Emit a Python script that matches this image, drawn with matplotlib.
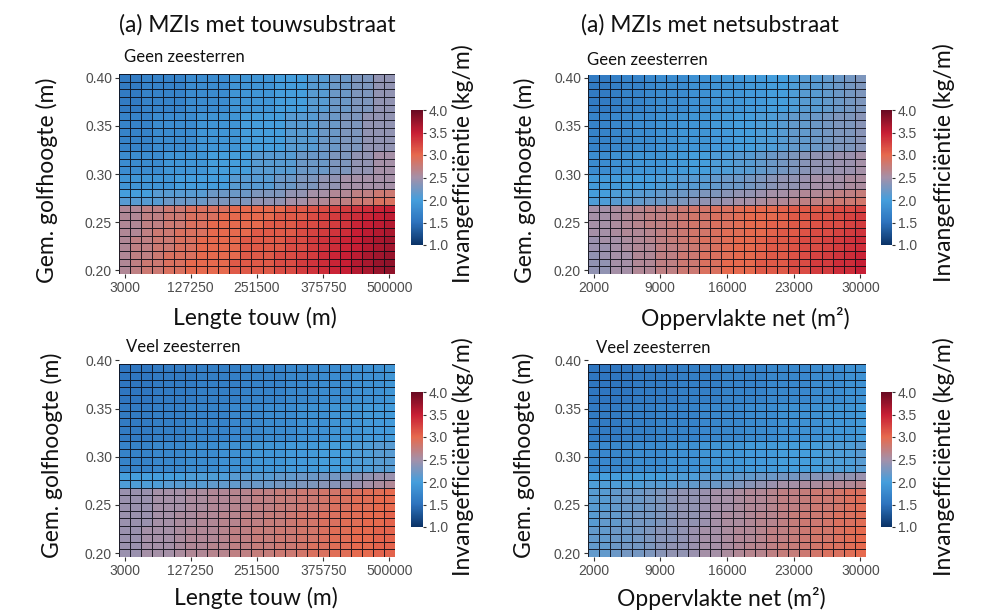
import numpy as np
import matplotlib.pyplot as plt
from matplotlib.colors import LinearSegmentedColormap, Normalize
from matplotlib.cm import ScalarMappable

W, H = 982, 616

# grid coordinates (25 columns each)
touw_lengte = np.linspace(3000, 500000, 25)
net_opp = np.linspace(2000, 30000, 25)
touw_ticks = [3000, 127250, 251500, 375750, 500000]
net_ticks = [2000, 9000, 16000, 23000, 30000]
golf_boven = np.round(np.arange(26) * 0.008 + 0.2, 3)   # 0.200 .. 0.400
golf_onder = np.round(np.arange(25) * 0.008 + 0.2, 3)   # 0.200 .. 0.392
y_ticks = [0.20, 0.25, 0.30, 0.35, 0.40]
cbar_ticks = [1.0, 1.5, 2.0, 2.5, 3.0, 3.5, 4.0]

# invangefficientie (kg/m), rows from 0.20 upwards
touw_geen = [
    [2.6,2.7,2.8,2.8,2.9,2.9,3.0,3.0,3.0,3.0,3.1,3.1,3.1,3.1,3.2,3.2,3.3,3.35,3.4,3.45,3.5,3.6,3.65,3.75,3.8],
    [2.6,2.7,2.8,2.8,2.9,2.9,3.0,3.0,3.0,3.0,3.1,3.1,3.1,3.1,3.2,3.2,3.3,3.35,3.4,3.45,3.5,3.6,3.65,3.75,3.8],
    [2.6,2.7,2.7,2.8,2.9,2.9,2.9,3.0,3.0,3.0,3.0,3.1,3.1,3.1,3.2,3.2,3.25,3.3,3.4,3.45,3.5,3.55,3.65,3.7,3.75],
    [2.6,2.7,2.7,2.8,2.8,2.9,2.9,3.0,3.0,3.0,3.0,3.1,3.1,3.1,3.1,3.2,3.2,3.3,3.35,3.4,3.45,3.5,3.6,3.65,3.7],
    [2.6,2.7,2.7,2.8,2.8,2.9,2.9,3.0,3.0,3.0,3.0,3.1,3.1,3.1,3.1,3.2,3.2,3.3,3.35,3.4,3.45,3.5,3.6,3.65,3.7],
    [2.6,2.6,2.7,2.8,2.8,2.9,2.9,2.9,3.0,3.0,3.0,3.0,3.1,3.1,3.1,3.1,3.2,3.25,3.3,3.35,3.4,3.5,3.55,3.6,3.65],
    [2.6,2.6,2.7,2.7,2.8,2.8,2.9,2.9,3.0,3.0,3.0,3.0,3.0,3.1,3.1,3.1,3.2,3.2,3.25,3.3,3.35,3.45,3.5,3.55,3.6],
    [2.6,2.6,2.7,2.7,2.8,2.8,2.9,2.9,2.9,3.0,3.0,3.0,3.0,3.0,3.1,3.1,3.1,3.2,3.25,3.3,3.35,3.4,3.45,3.5,3.55],
    [2.6,2.6,2.7,2.7,2.8,2.8,2.9,2.9,2.9,2.9,3.0,3.0,3.0,3.0,3.0,3.1,3.1,3.15,3.2,3.25,3.3,3.35,3.4,3.45,3.5],
    [2.1,2.1,2.1,2.1,2.2,2.2,2.2,2.2,2.3,2.3,2.3,2.3,2.4,2.4,2.4,2.5,2.5,2.6,2.6,2.7,2.7,2.8,2.8,2.9,2.9],
    [2.0,2.0,2.0,2.1,2.1,2.1,2.1,2.1,2.2,2.2,2.2,2.2,2.3,2.3,2.3,2.4,2.4,2.5,2.5,2.6,2.6,2.7,2.7,2.8,2.8],
    [1.9,1.9,1.9,1.9,1.9,2.0,2.0,2.0,2.0,2.0,2.1,2.1,2.1,2.1,2.2,2.2,2.3,2.3,2.4,2.4,2.5,2.5,2.5,2.5,2.5],
    [1.9,1.9,1.9,1.9,1.9,2.0,2.0,2.0,2.0,2.0,2.1,2.1,2.1,2.1,2.2,2.2,2.3,2.3,2.4,2.4,2.5,2.5,2.5,2.5,2.5],
    [1.8,1.8,1.8,1.8,1.9,1.9,1.9,1.9,2.0,2.0,2.0,2.0,2.1,2.1,2.1,2.1,2.2,2.2,2.2,2.3,2.3,2.4,2.4,2.5,2.5],
    [1.8,1.8,1.8,1.8,1.9,1.9,1.9,1.9,2.0,2.0,2.0,2.0,2.1,2.1,2.1,2.1,2.2,2.2,2.2,2.3,2.3,2.4,2.4,2.5,2.5],
    [1.8,1.8,1.8,1.8,1.9,1.9,1.9,1.9,2.0,2.0,2.0,2.0,2.1,2.1,2.1,2.1,2.2,2.2,2.2,2.3,2.3,2.4,2.4,2.5,2.5],
    [1.7,1.7,1.7,1.8,1.8,1.8,1.8,1.9,1.9,1.9,1.9,2.0,2.0,2.0,2.0,2.1,2.1,2.1,2.2,2.2,2.3,2.3,2.4,2.4,2.4],
    [1.7,1.7,1.7,1.8,1.8,1.8,1.8,1.9,1.9,1.9,1.9,2.0,2.0,2.0,2.0,2.1,2.1,2.1,2.2,2.2,2.3,2.3,2.4,2.4,2.4],
    [1.7,1.7,1.7,1.8,1.8,1.8,1.8,1.9,1.9,1.9,1.9,2.0,2.0,2.0,2.0,2.1,2.1,2.1,2.2,2.2,2.3,2.3,2.4,2.4,2.4],
    [1.7,1.7,1.7,1.8,1.8,1.8,1.8,1.9,1.9,1.9,1.9,2.0,2.0,2.0,2.0,2.1,2.1,2.1,2.2,2.2,2.3,2.3,2.4,2.4,2.4],
    [1.7,1.7,1.7,1.8,1.8,1.8,1.8,1.9,1.9,1.9,1.9,2.0,2.0,2.0,2.0,2.1,2.1,2.1,2.2,2.2,2.3,2.3,2.4,2.4,2.4],
    [1.6,1.6,1.7,1.7,1.7,1.7,1.8,1.8,1.8,1.8,1.9,1.9,1.9,1.9,2.0,2.0,2.0,2.1,2.1,2.2,2.2,2.3,2.3,2.4,2.4],
    [1.6,1.6,1.7,1.7,1.7,1.7,1.8,1.8,1.8,1.8,1.9,1.9,1.9,1.9,2.0,2.0,2.0,2.1,2.1,2.2,2.2,2.3,2.3,2.4,2.4],
    [1.6,1.6,1.7,1.7,1.7,1.7,1.8,1.8,1.8,1.8,1.9,1.9,1.9,1.9,2.0,2.0,2.0,2.1,2.1,2.2,2.2,2.3,2.3,2.4,2.4],
    [1.6,1.6,1.7,1.7,1.7,1.7,1.8,1.8,1.8,1.8,1.9,1.9,1.9,1.9,2.0,2.0,2.0,2.1,2.1,2.2,2.2,2.3,2.3,2.4,2.4],
    [1.6,1.6,1.7,1.7,1.7,1.7,1.8,1.8,1.8,1.8,1.9,1.9,1.9,1.9,2.0,2.0,2.0,2.1,2.1,2.2,2.2,2.3,2.3,2.4,2.4],
]

net_geen = [
    [2.4,2.4,2.5,2.5,2.6,2.6,2.7,2.7,2.8,2.8,2.9,2.9,3.0,3.0,3.0,3.1,3.1,3.1,3.2,3.2,3.3,3.3,3.4,3.4,3.5],
    [2.4,2.4,2.5,2.5,2.6,2.6,2.7,2.7,2.8,2.8,2.9,2.9,3.0,3.0,3.0,3.1,3.1,3.1,3.2,3.2,3.3,3.3,3.4,3.4,3.5],
    [2.4,2.45,2.5,2.5,2.6,2.6,2.7,2.7,2.8,2.8,2.9,2.9,2.95,3.0,3.0,3.05,3.1,3.1,3.15,3.2,3.25,3.3,3.35,3.4,3.45],
    [2.45,2.45,2.5,2.55,2.6,2.6,2.7,2.7,2.75,2.8,2.85,2.9,2.95,3.0,3.0,3.05,3.1,3.1,3.15,3.2,3.2,3.25,3.3,3.35,3.4],
    [2.45,2.5,2.5,2.55,2.6,2.65,2.7,2.75,2.8,2.85,2.9,2.9,2.95,3.0,3.0,3.05,3.1,3.1,3.15,3.2,3.2,3.25,3.3,3.35,3.4],
    [2.5,2.5,2.55,2.6,2.6,2.65,2.7,2.75,2.8,2.85,2.85,2.9,2.95,2.95,3.0,3.0,3.05,3.1,3.1,3.15,3.2,3.2,3.25,3.3,3.35],
    [2.5,2.5,2.55,2.6,2.65,2.7,2.7,2.75,2.8,2.85,2.85,2.9,2.9,2.95,3.0,3.0,3.05,3.05,3.1,3.1,3.15,3.2,3.2,3.25,3.3],
    [2.5,2.5,2.55,2.6,2.65,2.7,2.7,2.75,2.8,2.85,2.85,2.9,2.9,2.95,3.0,3.0,3.0,3.05,3.1,3.1,3.15,3.15,3.2,3.25,3.3],
    [2.5,2.5,2.55,2.6,2.65,2.7,2.7,2.75,2.8,2.85,2.85,2.9,2.9,2.95,3.0,3.0,3.0,3.05,3.1,3.1,3.1,3.15,3.2,3.2,3.25],
    [2.05,2.05,2.1,2.1,2.15,2.2,2.2,2.25,2.3,2.35,2.4,2.4,2.45,2.5,2.5,2.55,2.6,2.6,2.65,2.7,2.7,2.75,2.8,2.8,2.85],
    [2.0,2.0,2.05,2.05,2.1,2.1,2.15,2.2,2.2,2.25,2.3,2.3,2.35,2.4,2.4,2.45,2.5,2.5,2.55,2.6,2.6,2.65,2.7,2.7,2.75],
    [1.95,1.95,1.95,2.0,2.0,2.0,2.05,2.05,2.1,2.1,2.1,2.15,2.2,2.2,2.25,2.3,2.35,2.4,2.4,2.45,2.5,2.5,2.5,2.55,2.55],
    [1.95,1.95,1.95,2.0,2.0,2.0,2.05,2.05,2.1,2.1,2.1,2.15,2.2,2.2,2.25,2.3,2.35,2.4,2.4,2.45,2.5,2.5,2.5,2.55,2.55],
    [1.8,1.8,1.85,1.85,1.9,1.9,1.9,1.95,1.95,2.0,2.0,2.05,2.05,2.1,2.1,2.15,2.2,2.25,2.3,2.35,2.4,2.4,2.45,2.45,2.5],
    [1.8,1.8,1.85,1.85,1.9,1.9,1.9,1.95,1.95,2.0,2.0,2.05,2.05,2.1,2.1,2.15,2.2,2.25,2.3,2.35,2.4,2.4,2.45,2.45,2.5],
    [1.8,1.8,1.85,1.85,1.9,1.9,1.9,1.95,1.95,2.0,2.0,2.05,2.05,2.1,2.1,2.15,2.2,2.25,2.3,2.35,2.4,2.4,2.45,2.45,2.5],
    [1.7,1.7,1.75,1.75,1.8,1.8,1.85,1.85,1.9,1.9,1.9,1.95,1.95,2.0,2.0,2.05,2.05,2.1,2.15,2.15,2.2,2.25,2.3,2.3,2.35],
    [1.7,1.7,1.75,1.75,1.8,1.8,1.85,1.85,1.9,1.9,1.9,1.95,1.95,2.0,2.0,2.05,2.05,2.1,2.15,2.15,2.2,2.25,2.3,2.3,2.35],
    [1.7,1.7,1.75,1.75,1.8,1.8,1.85,1.85,1.9,1.9,1.9,1.95,1.95,2.0,2.0,2.05,2.05,2.1,2.15,2.15,2.2,2.25,2.3,2.3,2.35],
    [1.7,1.7,1.75,1.75,1.8,1.8,1.85,1.85,1.9,1.9,1.9,1.95,1.95,2.0,2.0,2.05,2.05,2.1,2.15,2.15,2.2,2.25,2.3,2.3,2.35],
    [1.7,1.7,1.75,1.75,1.8,1.8,1.85,1.85,1.9,1.9,1.9,1.95,1.95,2.0,2.0,2.05,2.05,2.1,2.15,2.15,2.2,2.25,2.3,2.3,2.35],
    [1.6,1.6,1.65,1.7,1.7,1.75,1.8,1.8,1.8,1.85,1.85,1.9,1.9,1.9,1.95,1.95,2.0,2.0,2.05,2.1,2.1,2.15,2.2,2.25,2.3],
    [1.6,1.6,1.65,1.7,1.7,1.75,1.8,1.8,1.8,1.85,1.85,1.9,1.9,1.9,1.95,1.95,2.0,2.0,2.05,2.1,2.1,2.15,2.2,2.25,2.3],
    [1.6,1.6,1.65,1.7,1.7,1.75,1.8,1.8,1.8,1.85,1.85,1.9,1.9,1.9,1.95,1.95,2.0,2.0,2.05,2.1,2.1,2.15,2.2,2.25,2.3],
    [1.6,1.6,1.65,1.7,1.7,1.75,1.8,1.8,1.8,1.85,1.85,1.9,1.9,1.9,1.95,1.95,2.0,2.0,2.05,2.1,2.1,2.15,2.2,2.25,2.3],
    [1.6,1.6,1.65,1.7,1.7,1.75,1.8,1.8,1.8,1.85,1.85,1.9,1.9,1.9,1.95,1.95,2.0,2.0,2.05,2.1,2.1,2.15,2.2,2.25,2.3],
]

touw_veel = [
    [2.45,2.45,2.5,2.5,2.5,2.55,2.6,2.6,2.65,2.65,2.7,2.7,2.75,2.75,2.8,2.8,2.85,2.9,2.9,2.95,2.95,3.0,3.0,3.05,3.05],
    [2.45,2.45,2.5,2.5,2.5,2.55,2.6,2.6,2.65,2.65,2.7,2.7,2.75,2.75,2.8,2.8,2.85,2.9,2.9,2.95,2.95,3.0,3.0,3.05,3.05],
    [2.45,2.45,2.5,2.5,2.5,2.55,2.6,2.6,2.6,2.65,2.7,2.7,2.75,2.75,2.8,2.8,2.85,2.85,2.9,2.95,2.95,3.0,3.0,3.05,3.05],
    [2.45,2.45,2.5,2.5,2.5,2.55,2.6,2.6,2.6,2.65,2.7,2.7,2.75,2.75,2.8,2.8,2.85,2.85,2.9,2.95,2.95,3.0,3.0,3.05,3.05],
    [2.45,2.45,2.45,2.5,2.5,2.55,2.55,2.6,2.6,2.65,2.65,2.7,2.7,2.75,2.75,2.8,2.85,2.85,2.9,2.9,2.95,2.95,3.0,3.0,3.05],
    [2.45,2.45,2.45,2.5,2.5,2.55,2.55,2.6,2.6,2.65,2.65,2.7,2.7,2.75,2.75,2.8,2.85,2.85,2.9,2.9,2.95,2.95,3.0,3.0,3.05],
    [2.45,2.45,2.45,2.5,2.5,2.5,2.55,2.55,2.6,2.6,2.65,2.65,2.7,2.7,2.75,2.75,2.8,2.8,2.85,2.9,2.9,2.95,2.95,3.0,3.0],
    [2.45,2.45,2.45,2.5,2.5,2.5,2.55,2.55,2.6,2.6,2.65,2.65,2.7,2.7,2.75,2.75,2.8,2.8,2.85,2.9,2.9,2.95,2.95,3.0,3.0],
    [2.45,2.45,2.45,2.5,2.5,2.5,2.55,2.55,2.6,2.6,2.65,2.65,2.7,2.7,2.75,2.75,2.8,2.8,2.85,2.85,2.9,2.9,2.95,2.95,3.0],
    [2.05,2.05,2.05,2.05,2.1,2.1,2.1,2.1,2.15,2.15,2.15,2.2,2.2,2.2,2.25,2.25,2.3,2.3,2.35,2.35,2.4,2.45,2.5,2.55,2.6],
    [2.0,2.0,2.0,2.0,2.0,2.0,2.05,2.05,2.05,2.05,2.1,2.1,2.1,2.1,2.15,2.15,2.2,2.2,2.25,2.25,2.3,2.35,2.4,2.45,2.45],
    [1.7,1.7,1.7,1.75,1.75,1.75,1.8,1.8,1.8,1.85,1.85,1.85,1.9,1.9,1.9,1.95,1.95,1.95,2.0,2.0,2.0,2.05,2.05,2.1,2.1],
    [1.7,1.7,1.7,1.75,1.75,1.75,1.8,1.8,1.8,1.85,1.85,1.85,1.9,1.9,1.9,1.95,1.95,1.95,2.0,2.0,2.0,2.05,2.05,2.1,2.1],
    [1.7,1.7,1.7,1.75,1.75,1.75,1.8,1.8,1.8,1.85,1.85,1.85,1.9,1.9,1.9,1.95,1.95,1.95,2.0,2.0,2.0,2.05,2.05,2.1,2.1],
    [1.7,1.7,1.7,1.75,1.75,1.75,1.8,1.8,1.8,1.85,1.85,1.85,1.9,1.9,1.9,1.95,1.95,1.95,2.0,2.0,2.0,2.05,2.05,2.1,2.1],
    [1.6,1.6,1.6,1.65,1.65,1.65,1.7,1.7,1.7,1.7,1.75,1.75,1.75,1.8,1.8,1.8,1.85,1.85,1.85,1.9,1.9,1.9,1.95,1.95,1.95],
    [1.6,1.6,1.6,1.65,1.65,1.65,1.7,1.7,1.7,1.7,1.75,1.75,1.75,1.8,1.8,1.8,1.85,1.85,1.85,1.9,1.9,1.9,1.95,1.95,1.95],
    [1.6,1.6,1.6,1.65,1.65,1.65,1.7,1.7,1.7,1.7,1.75,1.75,1.75,1.8,1.8,1.8,1.85,1.85,1.85,1.9,1.9,1.9,1.95,1.95,1.95],
    [1.6,1.6,1.6,1.65,1.65,1.65,1.7,1.7,1.7,1.7,1.75,1.75,1.75,1.8,1.8,1.8,1.85,1.85,1.85,1.9,1.9,1.9,1.95,1.95,1.95],
    [1.6,1.6,1.6,1.65,1.65,1.65,1.7,1.7,1.7,1.7,1.75,1.75,1.75,1.8,1.8,1.8,1.85,1.85,1.85,1.9,1.9,1.9,1.95,1.95,1.95],
    [1.55,1.55,1.55,1.6,1.6,1.6,1.6,1.65,1.65,1.65,1.65,1.7,1.7,1.7,1.7,1.75,1.75,1.75,1.8,1.8,1.8,1.85,1.85,1.85,1.9],
    [1.55,1.55,1.55,1.6,1.6,1.6,1.6,1.65,1.65,1.65,1.65,1.7,1.7,1.7,1.7,1.75,1.75,1.75,1.8,1.8,1.8,1.85,1.85,1.85,1.9],
    [1.55,1.55,1.55,1.6,1.6,1.6,1.6,1.65,1.65,1.65,1.65,1.7,1.7,1.7,1.7,1.75,1.75,1.75,1.8,1.8,1.8,1.85,1.85,1.85,1.9],
    [1.55,1.55,1.55,1.6,1.6,1.6,1.6,1.65,1.65,1.65,1.65,1.7,1.7,1.7,1.7,1.75,1.75,1.75,1.8,1.8,1.8,1.85,1.85,1.85,1.9],
    [1.55,1.55,1.55,1.6,1.6,1.6,1.6,1.65,1.65,1.65,1.65,1.7,1.7,1.7,1.7,1.75,1.75,1.75,1.8,1.8,1.8,1.85,1.85,1.85,1.9],
]

net_veel = [
    [2.15,2.15,2.2,2.25,2.25,2.3,2.35,2.4,2.4,2.45,2.5,2.5,2.55,2.6,2.65,2.65,2.7,2.75,2.75,2.8,2.85,2.9,2.9,2.95,3.0],
    [2.15,2.15,2.2,2.25,2.25,2.3,2.35,2.4,2.4,2.45,2.5,2.5,2.55,2.6,2.65,2.65,2.7,2.75,2.75,2.8,2.85,2.9,2.9,2.95,3.0],
    [2.15,2.15,2.2,2.2,2.25,2.3,2.35,2.35,2.4,2.45,2.5,2.5,2.55,2.6,2.6,2.65,2.7,2.7,2.75,2.8,2.85,2.85,2.9,2.95,3.0],
    [2.15,2.15,2.2,2.2,2.25,2.3,2.35,2.35,2.4,2.45,2.5,2.5,2.55,2.6,2.6,2.65,2.7,2.7,2.75,2.8,2.85,2.85,2.9,2.95,3.0],
    [2.1,2.15,2.15,2.2,2.25,2.25,2.3,2.35,2.4,2.4,2.45,2.5,2.55,2.55,2.6,2.65,2.65,2.7,2.75,2.8,2.8,2.85,2.9,2.9,2.95],
    [2.1,2.15,2.15,2.2,2.25,2.25,2.3,2.35,2.4,2.4,2.45,2.5,2.55,2.55,2.6,2.65,2.65,2.7,2.75,2.8,2.8,2.85,2.9,2.9,2.95],
    [2.1,2.1,2.15,2.2,2.2,2.25,2.3,2.35,2.4,2.4,2.45,2.5,2.5,2.55,2.6,2.6,2.65,2.7,2.7,2.75,2.8,2.8,2.85,2.9,2.95],
    [2.1,2.1,2.15,2.2,2.2,2.25,2.3,2.35,2.4,2.4,2.45,2.5,2.5,2.55,2.6,2.6,2.65,2.7,2.7,2.75,2.8,2.8,2.85,2.9,2.95],
    [2.1,2.1,2.15,2.2,2.2,2.25,2.3,2.35,2.4,2.4,2.45,2.5,2.5,2.55,2.6,2.6,2.65,2.7,2.7,2.75,2.8,2.8,2.85,2.9,2.9],
    [2.05,2.05,2.05,2.05,2.05,2.1,2.1,2.1,2.15,2.15,2.2,2.2,2.25,2.3,2.35,2.4,2.45,2.5,2.5,2.55,2.55,2.6,2.6,2.6,2.65],
    [2.0,2.0,2.0,2.0,2.0,2.0,2.0,2.05,2.05,2.05,2.1,2.1,2.1,2.15,2.15,2.2,2.2,2.25,2.25,2.3,2.35,2.35,2.4,2.4,2.45],
    [1.75,1.75,1.75,1.75,1.8,1.8,1.8,1.85,1.85,1.85,1.9,1.9,1.9,1.9,1.95,1.95,1.95,2.0,2.0,2.0,2.0,2.05,2.05,2.05,2.1],
    [1.75,1.75,1.75,1.75,1.8,1.8,1.8,1.85,1.85,1.85,1.9,1.9,1.9,1.9,1.95,1.95,1.95,2.0,2.0,2.0,2.0,2.05,2.05,2.05,2.1],
    [1.75,1.75,1.75,1.75,1.8,1.8,1.8,1.85,1.85,1.85,1.9,1.9,1.9,1.9,1.95,1.95,1.95,2.0,2.0,2.0,2.0,2.05,2.05,2.05,2.1],
    [1.75,1.75,1.75,1.75,1.8,1.8,1.8,1.85,1.85,1.85,1.9,1.9,1.9,1.9,1.95,1.95,1.95,2.0,2.0,2.0,2.0,2.05,2.05,2.05,2.1],
    [1.6,1.6,1.6,1.65,1.65,1.65,1.7,1.7,1.7,1.7,1.75,1.75,1.75,1.75,1.8,1.8,1.8,1.85,1.85,1.85,1.85,1.9,1.9,1.9,1.95],
    [1.6,1.6,1.6,1.65,1.65,1.65,1.7,1.7,1.7,1.7,1.75,1.75,1.75,1.75,1.8,1.8,1.8,1.85,1.85,1.85,1.85,1.9,1.9,1.9,1.95],
    [1.6,1.6,1.6,1.65,1.65,1.65,1.7,1.7,1.7,1.7,1.75,1.75,1.75,1.75,1.8,1.8,1.8,1.85,1.85,1.85,1.85,1.9,1.9,1.9,1.95],
    [1.6,1.6,1.6,1.65,1.65,1.65,1.7,1.7,1.7,1.7,1.75,1.75,1.75,1.75,1.8,1.8,1.8,1.85,1.85,1.85,1.85,1.9,1.9,1.9,1.95],
    [1.6,1.6,1.6,1.65,1.65,1.65,1.7,1.7,1.7,1.7,1.75,1.75,1.75,1.75,1.8,1.8,1.8,1.85,1.85,1.85,1.85,1.9,1.9,1.9,1.95],
    [1.55,1.55,1.55,1.55,1.6,1.6,1.6,1.6,1.65,1.65,1.65,1.65,1.7,1.7,1.7,1.7,1.75,1.75,1.75,1.75,1.8,1.8,1.8,1.85,1.85],
    [1.55,1.55,1.55,1.55,1.6,1.6,1.6,1.6,1.65,1.65,1.65,1.65,1.7,1.7,1.7,1.7,1.75,1.75,1.75,1.75,1.8,1.8,1.8,1.85,1.85],
    [1.55,1.55,1.55,1.55,1.6,1.6,1.6,1.6,1.65,1.65,1.65,1.65,1.7,1.7,1.7,1.7,1.75,1.75,1.75,1.75,1.8,1.8,1.8,1.85,1.85],
    [1.55,1.55,1.55,1.55,1.6,1.6,1.6,1.6,1.65,1.65,1.65,1.65,1.7,1.7,1.7,1.7,1.75,1.75,1.75,1.75,1.8,1.8,1.8,1.85,1.85],
    [1.55,1.55,1.55,1.55,1.6,1.6,1.6,1.6,1.65,1.65,1.65,1.65,1.7,1.7,1.7,1.7,1.75,1.75,1.75,1.75,1.8,1.8,1.8,1.85,1.85],
]

# colour scale like the reference legend
cmap = LinearSegmentedColormap.from_list("invang", [
    (0.0, "#0a3266"), (1/6, "#2d72bd"), (2/6, "#459edc"), (3/6, "#a490a8"),
    (4/6, "#e66a4e"), (5/6, "#c71e34"), (1.0, "#690a22")])
norm = Normalize(1.0, 4.0)

LABEL_FONT = "Lato"
TICK_FONT = "Liberation Sans"
TICK_COL = "#4d4d4d"

fig = plt.figure(figsize=(W / 100, H / 100), dpi=100)


def px_axes(x0, y0, x1, y1):
    return fig.add_axes([x0 / W, 1 - y1 / H, (x1 - x0) / W, (y1 - y0) / H])


def heat(box, xs, ys, vals, xticks, ytop):
    ax = px_axes(*box)
    ax.pcolormesh(xs, ys, np.array(vals), cmap=cmap, norm=norm, shading="nearest",
                  edgecolors=(0.04, 0.04, 0.08, 0.85), linewidth=0.65)
    dx = (xs[1] - xs[0]) / 2
    ax.set_xlim(xs[0] - dx, xs[-1] + dx)
    ax.set_ylim(0.196, ytop)
    ax.set_xticks(xticks)
    ax.set_xticklabels([str(t) for t in xticks])
    ax.set_yticks(y_ticks)
    ax.set_yticklabels(["%.2f" % t for t in y_ticks])
    for s in ax.spines.values():
        s.set_visible(False)
    ax.tick_params(length=3, width=0.8, color="#333333", pad=2, labelsize=10, labelcolor=TICK_COL)
    for lab in ax.get_xticklabels() + ax.get_yticklabels():
        lab.set_fontfamily(TICK_FONT)
    return ax


def cbar(box):
    cax = px_axes(*box)
    cb = fig.colorbar(ScalarMappable(norm=norm, cmap=cmap), cax=cax, ticks=cbar_ticks)
    cb.outline.set_visible(False)
    cb.ax.set_yticklabels(["%.1f" % t for t in cbar_ticks])
    cb.ax.tick_params(length=2, width=0.8, color="#333333", pad=2, labelsize=10, labelcolor=TICK_COL)
    for lab in cb.ax.get_yticklabels():
        lab.set_fontfamily(TICK_FONT)


def txt(x, y, s, size=16.5, rot=0, ha="center"):
    fig.text(x / W, 1 - y / H, s, fontsize=size, rotation=rot, ha=ha, va="center",
             family=LABEL_FONT, color="#111111")


heat((119, 74, 395, 274), touw_lengte, golf_boven, touw_geen, touw_ticks, 0.404)
heat((588, 75, 866, 274), net_opp, golf_boven, net_geen, net_ticks, 0.403)
heat((119, 360, 395, 557), touw_lengte, golf_onder, touw_veel, touw_ticks, 0.4005)
heat((588, 360, 866, 557), net_opp, golf_onder, net_veel, net_ticks, 0.4005)

cbar((411, 110, 423, 245))
cbar((881, 110, 892, 245))
cbar((411, 392, 423, 527))
cbar((881, 392, 892, 527))

txt(257, 25, "(a) MZIs met touwsubstraat")
txt(710, 25, "(a) MZIs met netsubstraat")

txt(124, 57, "Geen zeesterren", size=12, ha="left")
txt(587, 60, "Geen zeesterren", size=12, ha="left")
txt(126, 347, "Veel zeesterren", size=12, ha="left")
txt(596, 348, "Veel zeesterren", size=12, ha="left")

txt(47, 180, "Gem. golfhoogte (m)", rot=90)
txt(525, 180, "Gem. golfhoogte (m)", rot=90)
txt(52, 455, "Gem. golfhoogte (m)", rot=90)
txt(524, 455, "Gem. golfhoogte (m)", rot=90)

txt(255, 318, "Lengte touw (m)")
txt(745, 318, "Oppervlakte net (m²)")
txt(256, 598, "Lengte touw (m)")
txt(721, 598, "Oppervlakte net (m²)")

txt(463, 164, "Invangefficiëntie (kg/m)", rot=90)
txt(944, 163, "Invangefficiëntie (kg/m)", rot=90)
txt(463, 457, "Invangefficiëntie (kg/m)", rot=90)
txt(944, 457, "Invangefficiëntie (kg/m)", rot=90)

fig.savefig("out.png", dpi=100, facecolor="white")
